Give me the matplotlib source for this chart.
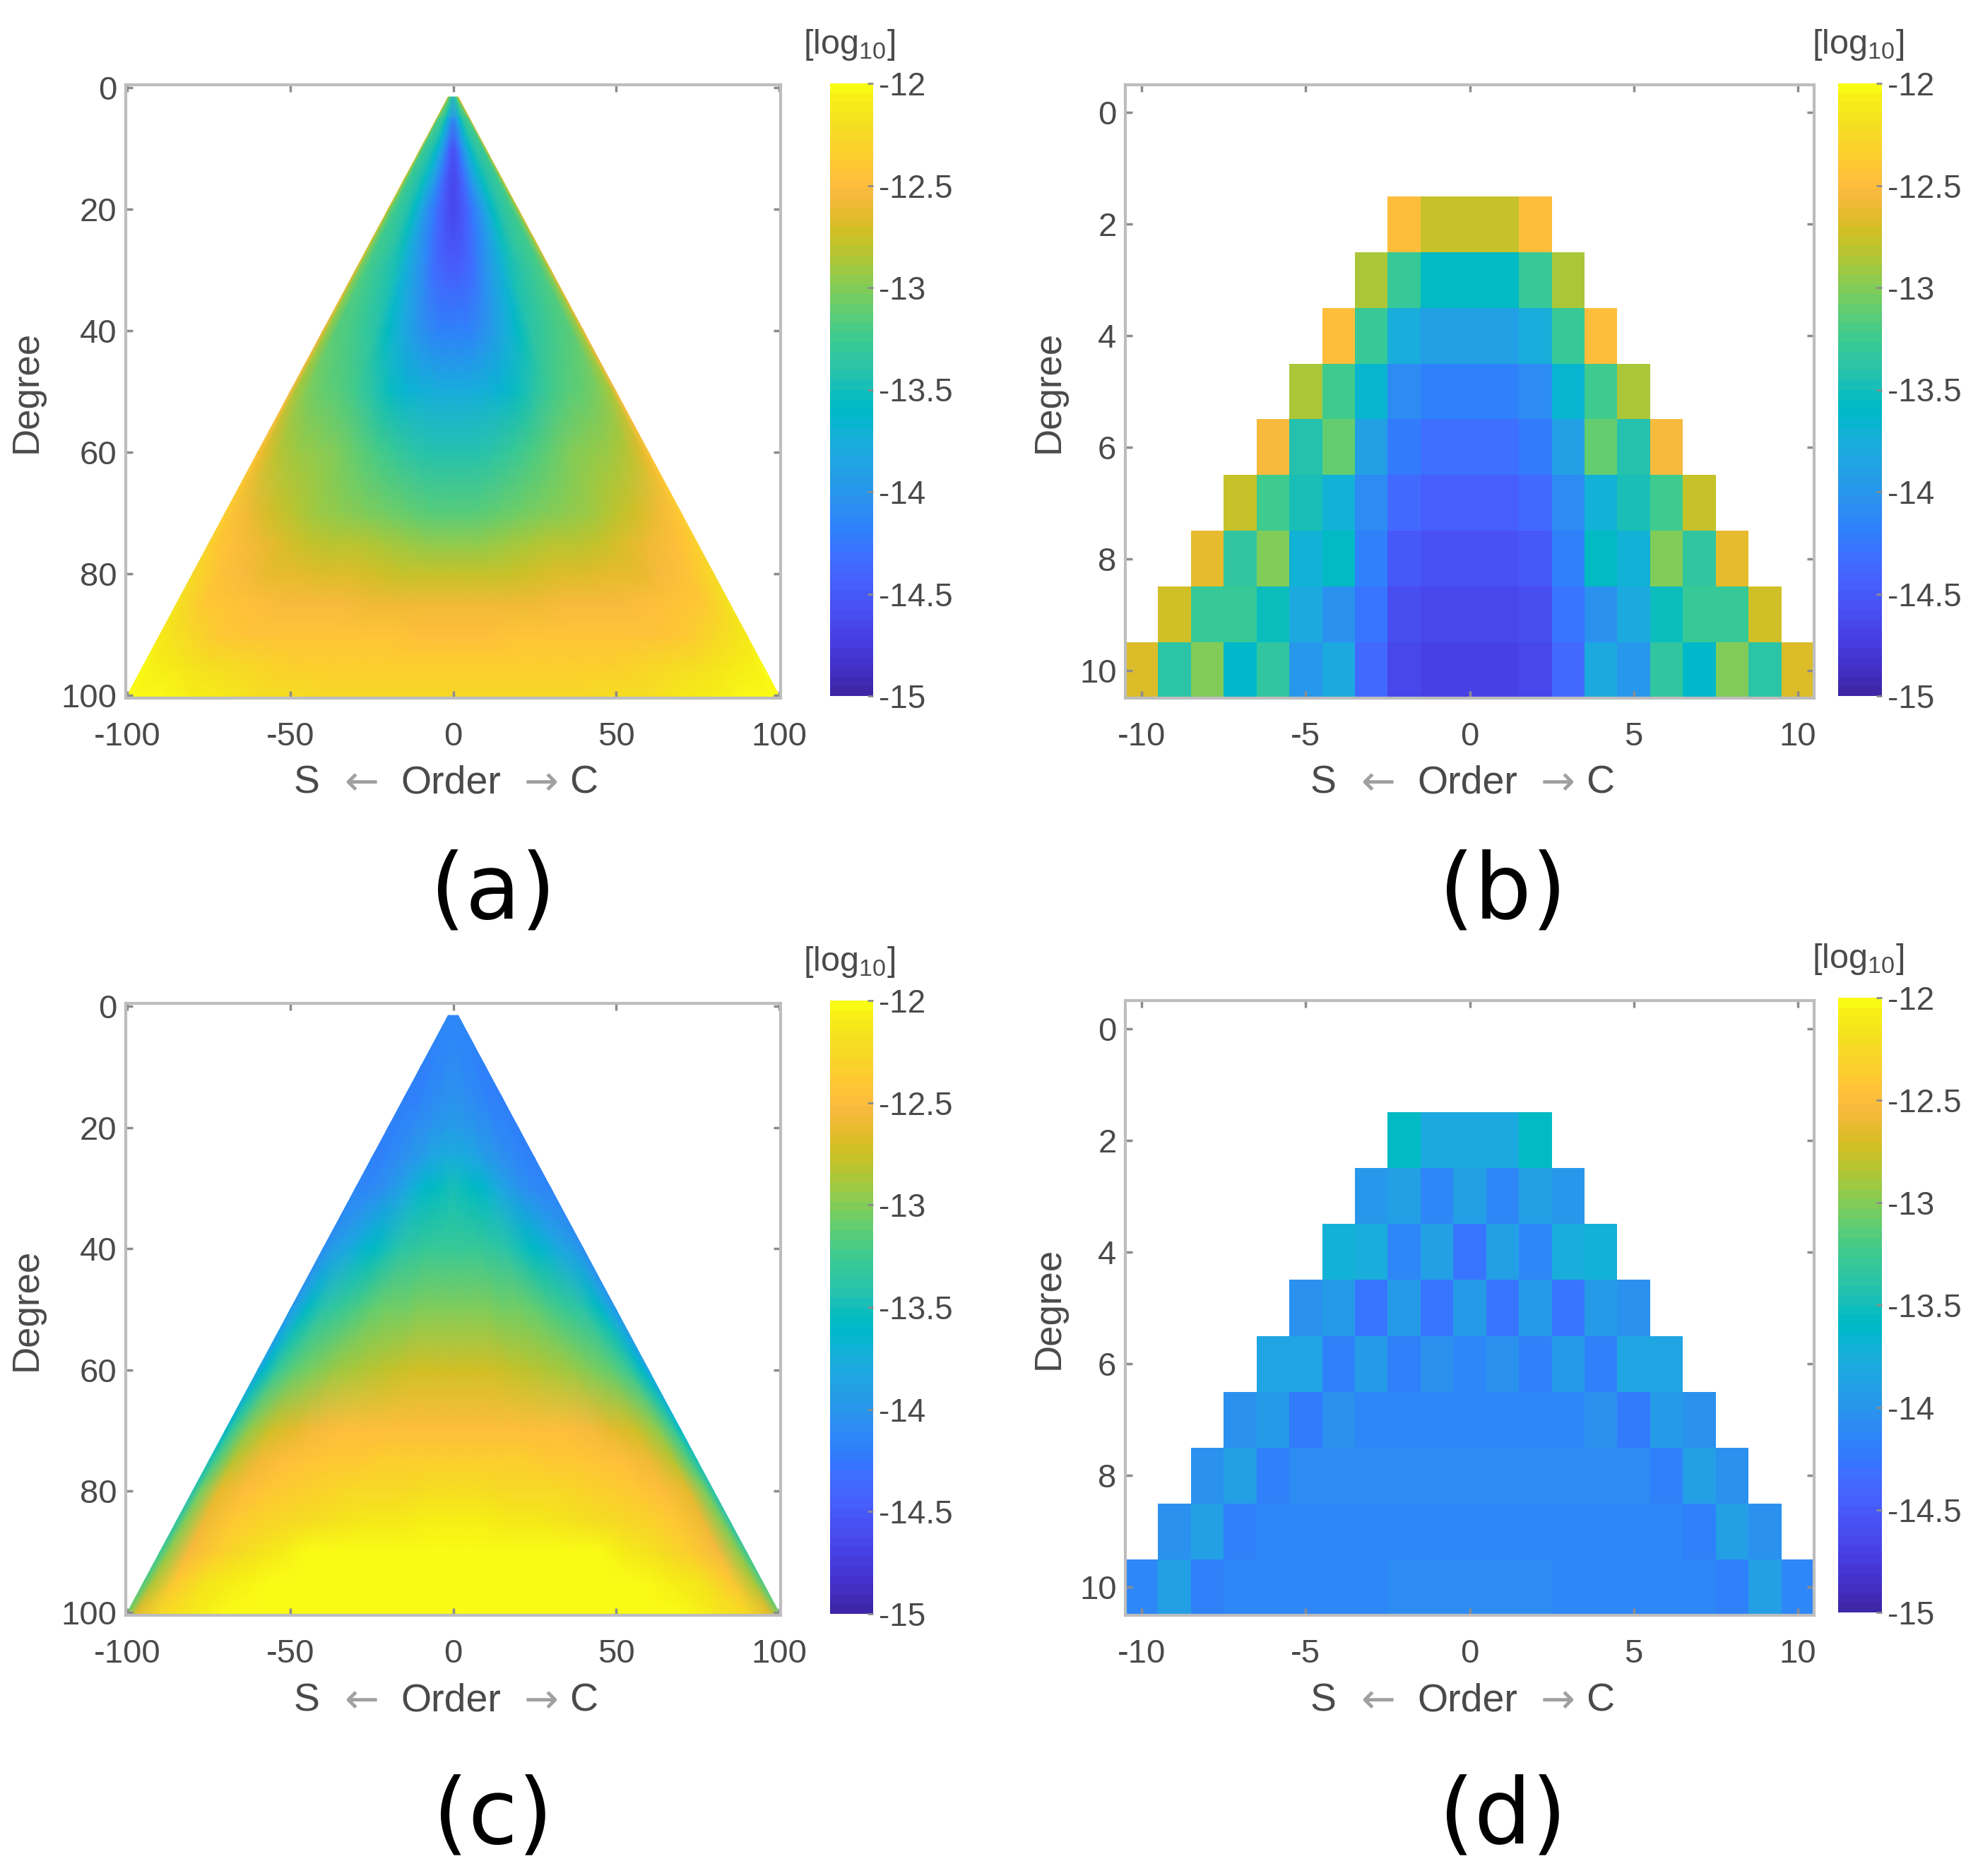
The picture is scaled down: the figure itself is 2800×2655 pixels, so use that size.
import numpy as np
import matplotlib
matplotlib.use('Agg')
import matplotlib.pyplot as plt
from matplotlib.colors import ListedColormap

## Dados ##

# cores parula
parula = [
 [0.2422,0.1504,0.6603],[0.2504,0.1650,0.7076],[0.2578,0.1818,0.7511],[0.2647,0.1978,0.7952],
 [0.2706,0.2147,0.8364],[0.2751,0.2342,0.8710],[0.2783,0.2559,0.8991],[0.2803,0.2782,0.9221],
 [0.2813,0.3006,0.9414],[0.2810,0.3228,0.9579],[0.2795,0.3447,0.9717],[0.2760,0.3667,0.9829],
 [0.2699,0.3892,0.9906],[0.2602,0.4123,0.9952],[0.2440,0.4358,0.9988],[0.2206,0.4603,0.9973],
 [0.1963,0.4847,0.9892],[0.1834,0.5074,0.9798],[0.1786,0.5289,0.9682],[0.1764,0.5499,0.9520],
 [0.1687,0.5703,0.9359],[0.1540,0.5902,0.9218],[0.1460,0.6091,0.9079],[0.1380,0.6276,0.8973],
 [0.1248,0.6459,0.8883],[0.1113,0.6635,0.8763],[0.0952,0.6798,0.8598],[0.0689,0.6948,0.8394],
 [0.0297,0.7082,0.8163],[0.0036,0.7203,0.7917],[0.0067,0.7312,0.7660],[0.0433,0.7411,0.7394],
 [0.0964,0.7500,0.7120],[0.1408,0.7584,0.6842],[0.1717,0.7670,0.6554],[0.1938,0.7758,0.6251],
 [0.2161,0.7843,0.5923],[0.2470,0.7918,0.5567],[0.2906,0.7973,0.5188],[0.3406,0.8008,0.4789],
 [0.3909,0.8029,0.4354],[0.4456,0.8024,0.3909],[0.5044,0.7993,0.3480],[0.5616,0.7942,0.3045],
 [0.6174,0.7876,0.2612],[0.6720,0.7793,0.2227],[0.7242,0.7698,0.1910],[0.7738,0.7598,0.1646],
 [0.8203,0.7498,0.1535],[0.8634,0.7406,0.1596],[0.9035,0.7330,0.1774],[0.9393,0.7288,0.2100],
 [0.9728,0.7298,0.2394],[0.9956,0.7434,0.2371],[0.9970,0.7659,0.2199],[0.9952,0.7861,0.1991],
 [0.9892,0.8068,0.1801],[0.9786,0.8280,0.1650],[0.9676,0.8493,0.1487],[0.9610,0.8707,0.1300],
 [0.9597,0.8923,0.1120],[0.9628,0.9139,0.0981],[0.9691,0.9353,0.0842],[0.9769,0.9839,0.0805],
]

# paineis (a) e (c): linhas por grau, colunas por |ordem|/grau
graus = [1.5, 5, 10, 15, 20, 25, 30, 40, 50, 60, 70, 75, 80, 85, 90, 95, 100.5]
fracoes = [0, .1, .2, .3, .4, .5, .6, .7, .8, .9, .97, 1]

campo_a = [
 [-13.40,-13.40,-13.40,-13.40,-13.30,-13.20,-13.20,-13.10,-13.00,-12.90,-12.70,-12.50],
 [-14.05,-14.00,-13.90,-13.75,-13.60,-13.45,-13.35,-13.30,-13.25,-13.20,-13.00,-12.60],
 [-14.55,-14.45,-14.25,-14.00,-13.80,-13.62,-13.48,-13.40,-13.35,-13.28,-13.05,-12.70],
 [-14.65,-14.55,-14.35,-14.15,-13.92,-13.72,-13.52,-13.42,-13.35,-13.28,-13.05,-12.70],
 [-14.65,-14.57,-14.42,-14.25,-14.05,-13.80,-13.55,-13.42,-13.33,-13.25,-13.05,-12.70],
 [-14.55,-14.50,-14.38,-14.20,-14.00,-13.75,-13.53,-13.40,-13.30,-13.22,-13.03,-12.68],
 [-14.45,-14.42,-14.30,-14.10,-13.90,-13.70,-13.50,-13.37,-13.27,-13.20,-13.00,-12.65],
 [-14.20,-14.17,-14.10,-13.95,-13.75,-13.55,-13.40,-13.28,-13.20,-13.13,-12.93,-12.60],
 [-13.78,-13.76,-13.72,-13.65,-13.52,-13.38,-13.25,-13.17,-13.10,-13.02,-12.85,-12.55],
 [-13.45,-13.45,-13.40,-13.30,-13.20,-13.10,-13.03,-12.97,-12.90,-12.80,-12.65,-12.45],
 [-13.17,-13.15,-13.12,-13.07,-13.00,-12.95,-12.90,-12.83,-12.72,-12.60,-12.45,-12.35],
 [-12.97,-12.96,-12.93,-12.88,-12.84,-12.80,-12.76,-12.70,-12.60,-12.48,-12.38,-12.30],
 [-12.78,-12.78,-12.76,-12.73,-12.70,-12.68,-12.65,-12.62,-12.55,-12.45,-12.32,-12.25],
 [-12.60,-12.60,-12.59,-12.58,-12.56,-12.54,-12.52,-12.50,-12.46,-12.38,-12.26,-12.18],
 [-12.47,-12.47,-12.46,-12.45,-12.45,-12.45,-12.45,-12.44,-12.40,-12.28,-12.16,-12.10],
 [-12.36,-12.36,-12.36,-12.35,-12.34,-12.33,-12.30,-12.27,-12.20,-12.12,-12.05,-12.03],
 [-12.25,-12.25,-12.25,-12.25,-12.24,-12.22,-12.19,-12.14,-12.08,-12.03,-12.01,-12.00],
]

campo_c = [
 [-14.15,-14.15,-14.15,-14.15,-14.15,-14.15,-14.15,-14.15,-14.15,-14.15,-14.15,-14.15],
 [-14.15,-14.15,-14.15,-14.15,-14.15,-14.15,-14.15,-14.15,-14.15,-14.15,-14.15,-14.15],
 [-14.10,-14.10,-14.10,-14.12,-14.12,-14.15,-14.15,-14.18,-14.20,-14.20,-14.20,-14.20],
 [-14.05,-14.05,-14.05,-14.08,-14.10,-14.12,-14.15,-14.18,-14.20,-14.20,-14.20,-14.20],
 [-13.95,-13.95,-13.97,-14.00,-14.03,-14.05,-14.10,-14.12,-14.15,-14.18,-14.20,-14.20],
 [-13.75,-13.76,-13.80,-13.87,-13.93,-14.00,-14.05,-14.10,-14.15,-14.18,-14.20,-14.20],
 [-13.50,-13.52,-13.55,-13.62,-13.72,-13.83,-13.93,-14.03,-14.08,-14.12,-14.15,-14.15],
 [-13.27,-13.28,-13.30,-13.34,-13.40,-13.48,-13.57,-13.68,-13.80,-13.92,-14.00,-14.08],
 [-13.00,-13.01,-13.03,-13.05,-13.07,-13.12,-13.20,-13.30,-13.40,-13.55,-13.85,-14.00],
 [-12.72,-12.73,-12.74,-12.76,-12.80,-12.85,-12.92,-13.00,-13.10,-13.30,-13.60,-13.85],
 [-12.47,-12.47,-12.48,-12.49,-12.49,-12.50,-12.55,-12.62,-12.72,-12.95,-13.30,-13.60],
 [-12.35,-12.35,-12.36,-12.37,-12.39,-12.41,-12.45,-12.50,-12.58,-12.80,-13.18,-13.50],
 [-12.22,-12.23,-12.24,-12.26,-12.28,-12.31,-12.36,-12.42,-12.47,-12.65,-13.05,-13.45],
 [-12.08,-12.09,-12.10,-12.12,-12.16,-12.20,-12.26,-12.32,-12.40,-12.58,-13.00,-13.38],
 [-12.00,-12.00,-12.00,-12.01,-12.02,-12.03,-12.12,-12.20,-12.33,-12.52,-12.95,-13.30],
 [-12.00,-12.00,-12.00,-12.00,-12.00,-12.00,-12.02,-12.07,-12.18,-12.40,-12.85,-13.20],
 [-12.00,-12.00,-12.00,-12.00,-12.00,-12.00,-12.00,-12.02,-12.10,-12.28,-12.65,-13.05],
]

# paineis (b) e (d): de ordem 0 ate ordem = grau, graus 2 a 10
grau_inicial = 2

coef_b = [
 [-12.78,-12.78,-12.50],
 [-13.58,-13.58,-13.28,-12.88],
 [-13.90,-13.90,-13.74,-13.30,-12.50],
 [-14.20,-14.20,-14.10,-13.65,-13.25,-12.87],
 [-14.33,-14.33,-14.25,-13.92,-13.12,-13.42,-12.52],
 [-14.47,-14.47,-14.38,-14.10,-13.72,-13.48,-13.25,-12.78],
 [-14.55,-14.55,-14.50,-14.20,-13.55,-13.72,-13.02,-13.35,-12.62],
 [-14.63,-14.63,-14.60,-14.27,-14.03,-13.80,-13.53,-13.27,-13.27,-12.72],
 [-14.68,-14.68,-14.66,-14.38,-13.82,-14.00,-13.35,-13.60,-13.03,-13.37,-12.68],
]

coef_d = [
 [-13.80,-13.80,-13.55],
 [-13.88,-14.15,-13.92,-14.00],
 [-14.27,-13.88,-14.15,-13.78,-13.72],
 [-13.95,-14.28,-13.93,-14.28,-13.93,-14.03],
 [-14.15,-14.03,-14.18,-13.95,-14.20,-13.85,-13.85],
 [-14.12,-14.12,-14.12,-14.12,-14.05,-14.25,-13.93,-14.03],
 [-14.10,-14.10,-14.10,-14.10,-14.10,-14.10,-14.20,-13.88,-14.03],
 [-14.12,-14.12,-14.12,-14.12,-14.12,-14.12,-14.12,-14.20,-13.90,-14.05],
 [-14.08,-14.10,-14.10,-14.12,-14.12,-14.12,-14.12,-14.15,-14.20,-13.90,-14.12],
]

ticks_barra = [-15, -14.5, -14, -13.5, -13, -12.5, -12]
rotulos_barra = ['-15', '-14.5', '-14', '-13.5', '-13', '-12.5', '-12']

## Configuracao ##

plt.rcParams['font.family'] = ['Liberation Sans', 'DejaVu Sans']
plt.rcParams['mathtext.default'] = 'regular'
plt.rcParams['axes.unicode_minus'] = False

L, A = 2800, 2655
COR_TEXTO = '#4a4a4a'
COR_BORDA = '#bdbdbd'
mapa = ListedColormap(parula)

fig = plt.figure(figsize=(L/100, A/100), dpi=100, facecolor='white')

def eixo_px(x0, x1, y0, y1):
  return fig.add_axes([x0/L, 1-y1/A, (x1-x0)/L, (y1-y0)/A])

def painel_triangulo(caixa, campo):
  ax = eixo_px(*caixa)
  f = np.array(fracoes)
  f = np.concatenate([-f[:0:-1], f])
  g = np.array(graus)
  Z = np.array(campo)
  Z = np.hstack([Z[:, :0:-1], Z])
  X = np.outer(g, f)
  Y = np.outer(g, np.ones_like(f))
  malha = ax.pcolormesh(X, Y, Z, shading='gouraud', cmap=mapa, vmin=-15, vmax=-12)
  ax.set_xlim(-100.5, 100.5)
  ax.set_ylim(100.5, -0.5)
  ax.set_xticks([-100, -50, 0, 50, 100])
  ax.set_yticks([0, 20, 40, 60, 80, 100])
  return ax, malha

def painel_degraus(caixa, coef):
  ax = eixo_px(*caixa)
  Z = np.full((11, 21), np.nan)
  for i, linha in enumerate(coef):
    n = grau_inicial + i
    for m, v in enumerate(linha):
      Z[n, 10+m] = v
      Z[n, 10-m] = v
  ordens = np.arange(-10.5, 11)
  gr = np.arange(-0.5, 11)
  malha = ax.pcolormesh(ordens, gr, np.ma.masked_invalid(Z), cmap=mapa, vmin=-15, vmax=-12)
  ax.set_xlim(-10.5, 10.5)
  ax.set_ylim(10.5, -0.5)
  ax.set_xticks([-10, -5, 0, 5, 10])
  ax.set_yticks([0, 2, 4, 6, 8, 10])
  return ax, malha

def acabamento(ax, malha, caixa_barra, x_grau, letra, x_letra, y_letra):
  for lado in ax.spines.values():
    lado.set_color(COR_BORDA)
    lado.set_linewidth(3)
  ax.tick_params(direction='in', length=7, width=2.5, color='#8c8c8c', top=True, right=True,
                 labelsize=34, labelcolor=COR_TEXTO)
  ax.tick_params(axis='x', pad=24)
  ax.tick_params(axis='y', pad=9)
  caixa = ax.get_position()
  y_meio = (caixa.y0 + caixa.y1)/2
  x_meio = (caixa.x0 + caixa.x1)/2
  y_rot = caixa.y0 - 121/A
  # rotulos dos eixos
  fig.text(x_grau/L, y_meio, 'Degree', rotation=90, ha='center', va='center', fontsize=38, color=COR_TEXTO)
  fig.text(x_meio - 208/L, y_rot, 'S', ha='center', va='center', fontsize=40, color=COR_TEXTO)
  fig.text(x_meio - 130/L, y_rot, '\u2190', ha='center', va='center', fontsize=42, color='#a0a0a0', family='DejaVu Sans')
  fig.text(x_meio - 3/L, y_rot, 'Order', ha='center', va='center', fontsize=40, color=COR_TEXTO)
  fig.text(x_meio + 125/L, y_rot, '\u2192', ha='center', va='center', fontsize=42, color='#a0a0a0', family='DejaVu Sans')
  fig.text(x_meio + 185/L, y_rot, 'C', ha='center', va='center', fontsize=40, color=COR_TEXTO)
  # barra de cores
  cax = eixo_px(*caixa_barra)
  barra = fig.colorbar(malha, cax=cax)
  barra.set_ticks(ticks_barra)
  barra.set_ticklabels(rotulos_barra)
  barra.outline.set_visible(False)
  cax.tick_params(length=6, width=2, color='#8c8c8c', labelsize=33, labelcolor=COR_TEXTO, pad=6, direction='in')
  xc = (caixa_barra[0] + caixa_barra[1])/2 - 3
  fig.text(xc/L, 1 - (caixa_barra[2] - 55)/A, '[log$_{10}$]', ha='center', va='center', fontsize=35, color=COR_TEXTO)
  fig.text(x_letra/L, 1 - y_letra/A, letra, ha='center', va='center', fontsize=92, color='black', family='DejaVu Sans')

## Desenho dos Paineis ##

ax, m = painel_triangulo((178, 1105, 120, 988), campo_a)
acabamento(ax, m, (1175, 1236, 118, 985), 38, '(a)', 698, 1264)

ax, m = painel_degraus((1593, 2568, 120, 988), coef_b)
acabamento(ax, m, (2602, 2664, 118, 985), 1485, '(b)', 2127, 1264)

ax, m = painel_triangulo((178, 1105, 1420, 2286), campo_c)
acabamento(ax, m, (1175, 1236, 1416, 2284), 38, '(c)', 698, 2573)

ax, m = painel_degraus((1593, 2568, 1416, 2286), coef_d)
acabamento(ax, m, (2602, 2664, 1412, 2282), 1485, '(d)', 2127, 2573)

fig.savefig('out.png', dpi=100)
